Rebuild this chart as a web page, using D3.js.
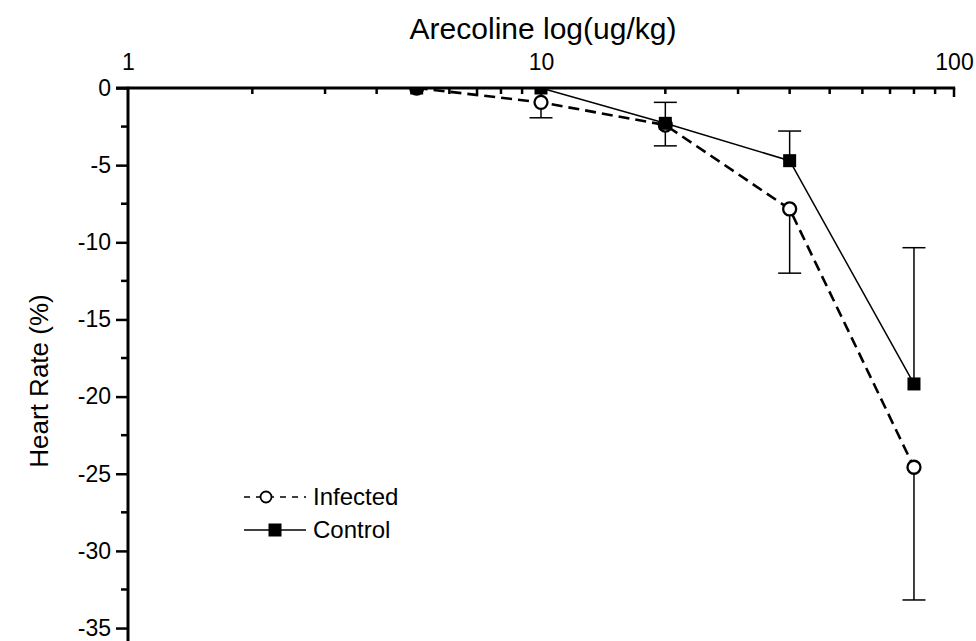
<!DOCTYPE html>
<html>
<head>
<meta charset="utf-8">
<script src="https://cdn.jsdelivr.net/npm/d3@7"></script>
<style>
  html, body { margin: 0; padding: 0; background: #fff; }
  svg { display: block; font-family: "Liberation Sans", Arial, sans-serif; }
</style>
</head>
<body>
<svg id="chart" width="976" height="641"></svg>
<script>
// ---- data ----
const doses = [5, 10, 20, 40, 80];                    // ug/kg
const infected = [0, -0.93, -2.4, -7.84, -24.58];     // % heart rate change
const infectedErr = [0, 1.0, 1.35, 4.16, 8.6];        // drawn downward
const control = [0, 0, -2.29, -4.71, -19.18];
const controlErr = [0, 0, 1.36, 1.92, 8.83];          // drawn upward
const xTickValues = [1, 10, 100];
const yTickValues = [0, -5, -10, -15, -20, -25, -30, -35];
const seriesNames = ["Infected", "Control"];
const xTitle = "Arecoline log(ug/kg)";
const yTitle = "Heart Rate (%)";

// ---- layout ----
const W = 976, H = 641;
const plotLeft = 128, plotRight = 954, plotTop = 88;
const unit = 15.43;

const svg = d3.select("#chart");
const x = d3.scaleLog().domain([1, 100]).range([plotLeft, plotRight]);
const y = d3.scaleLinear().domain([0, -40]).range([plotTop, plotTop + 40 * unit]);
const fmt = d => String(d);

// clip for plot area
svg.append("defs").append("clipPath").attr("id", "plotclip")
  .append("rect").attr("x", plotLeft - 20).attr("y", plotTop).attr("width", plotRight - plotLeft + 40).attr("height", H - plotTop);

// ---- y axis (left, ticks outward) ----
const yMinor = d3.range(0, -41, -2.5).filter(v => v % 5 !== 0);
const gy = svg.append("g").attr("transform", `translate(${plotLeft},0)`);
gy.call(d3.axisLeft(y).tickValues(yTickValues).tickSize(12).tickPadding(5).tickFormat(fmt))
  .call(g => g.select(".domain").remove());
gy.selectAll(".tick line").attr("stroke", "#000").attr("stroke-width", 2.5);
gy.selectAll(".tick text").attr("font-size", 23).attr("fill", "#000")
  .attr("font-family", "Liberation Sans, Arial, sans-serif");
gy.selectAll(".ymin").data(yMinor).join("line").attr("class", "ymin")
  .attr("x1", -7).attr("x2", 0).attr("y1", d => y(d)).attr("y2", d => y(d))
  .attr("stroke", "#000").attr("stroke-width", 2.5);
gy.append("line").attr("x1", 0).attr("x2", 0).attr("y1", plotTop - 1.2).attr("y2", H + 5)
  .attr("stroke", "#000").attr("stroke-width", 3);

// ---- x axis (top, ticks inward) ----
const xMinor = [];
[1, 10].forEach(b => { for (let k = 2; k <= 9; k++) xMinor.push(b * k); });
const gx = svg.append("g").attr("transform", `translate(0,${plotTop})`);
gx.call(d3.axisTop(x).tickValues(xTickValues).tickSize(0).tickPadding(18).tickFormat(fmt))
  .call(g => g.select(".domain").remove());
gx.selectAll(".tick text").attr("font-size", 23).attr("fill", "#000")
  .attr("font-family", "Liberation Sans, Arial, sans-serif");
gx.selectAll(".xmaj").data(xTickValues.slice(1)).join("line").attr("class", "xmaj")
  .attr("x1", d => x(d)).attr("x2", d => x(d)).attr("y1", 0).attr("y2", 9)
  .attr("stroke", "#000").attr("stroke-width", 2.5);
gx.selectAll(".xmin").data(xMinor).join("line").attr("class", "xmin")
  .attr("x1", d => x(d)).attr("x2", d => x(d)).attr("y1", 0).attr("y2", 6)
  .attr("stroke", "#000").attr("stroke-width", 2.5);
gx.append("line").attr("x1", plotLeft - 12).attr("x2", plotRight + 1.2).attr("y1", 0).attr("y2", 0)
  .attr("stroke", "#000").attr("stroke-width", 3);

// ---- titles ----
svg.append("text").attr("x", 543).attr("y", 39).attr("text-anchor", "middle")
  .attr("font-size", 30).attr("fill", "#000").text(xTitle);
svg.append("text").attr("transform", "translate(48,381) rotate(-90)")
  .attr("text-anchor", "middle").attr("font-size", 26).attr("fill", "#000").text(yTitle);

// ---- data marks ----
const plot = svg.append("g").attr("clip-path", "url(#plotclip)");
const inf = doses.map((d, i) => ({ x: d, y: infected[i], e: infectedErr[i] }));
const con = doses.map((d, i) => ({ x: d, y: control[i], e: controlErr[i] }));
const line = d3.line().x(d => x(d.x)).y(d => y(d.y));

plot.append("path").datum(inf).attr("d", line).attr("fill", "none")
  .attr("stroke", "#000").attr("stroke-width", 2.6).attr("stroke-dasharray", "11,6");
plot.append("path").datum(con).attr("d", line).attr("fill", "none")
  .attr("stroke", "#000").attr("stroke-width", 1.5);

// error bars
const capW = 11.5;
function errBars(data, dir) {
  const g = plot.append("g");
  data.filter(d => d.e > 0).forEach(d => {
    const y0 = y(d.y), y1 = y(d.y + dir * d.e);
    g.append("line").attr("x1", x(d.x)).attr("x2", x(d.x)).attr("y1", y0).attr("y2", y1)
      .attr("stroke", "#000").attr("stroke-width", 1.5);
    g.append("line").attr("x1", x(d.x) - capW).attr("x2", x(d.x) + capW).attr("y1", y1).attr("y2", y1)
      .attr("stroke", "#000").attr("stroke-width", 1.5);
  });
}
errBars(inf, -1);
errBars(con, 1);

// markers
plot.selectAll(".inf").data(inf).join("circle").attr("class", "inf")
  .attr("cx", d => x(d.x)).attr("cy", d => y(d.y)).attr("r", 6.5)
  .attr("fill", "#fff").attr("stroke", "#000").attr("stroke-width", 2.3);
const sq = 13;
plot.selectAll(".con").data(con).join("rect").attr("class", "con")
  .attr("x", d => x(d.x) - sq / 2).attr("y", d => y(d.y) - sq / 2)
  .attr("width", sq).attr("height", sq).attr("fill", "#000");

// ---- legend ----
const lg = svg.append("g");
const rows = [
  { name: seriesNames[0], yy: 497, dash: "6,6", marker: "circle", mx: 266 },
  { name: seriesNames[1], yy: 530, dash: null, marker: "rect", mx: 275 }
];
rows.forEach(r => {
  lg.append("line").attr("x1", 244).attr("x2", 306).attr("y1", r.yy).attr("y2", r.yy)
    .attr("stroke", "#000").attr("stroke-width", 1.5)
    .attr("stroke-dasharray", r.dash);
  if (r.marker === "circle") {
    lg.append("circle").attr("cx", r.mx).attr("cy", r.yy).attr("r", 5.5)
      .attr("fill", "#fff").attr("stroke", "#000").attr("stroke-width", 1.8);
  } else {
    lg.append("rect").attr("x", r.mx - 6.5).attr("y", r.yy - 6.5).attr("width", 13).attr("height", 13)
      .attr("fill", "#000");
  }
  lg.append("text").attr("x", 313).attr("y", r.yy).attr("dy", "0.35em")
    .attr("font-size", 24).attr("fill", "#000").text(r.name);
});
</script>
</body>
</html>
